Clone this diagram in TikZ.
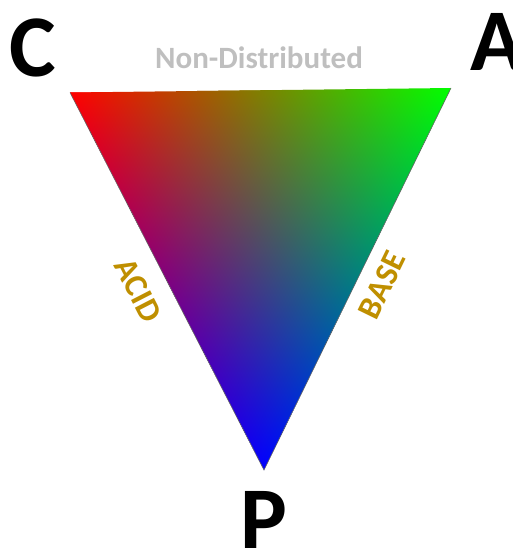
\documentclass[tikz,border=0pt]{standalone}
\usepackage{fontspec}
\setmainfont{Carlito}
\definecolor{ndgray}{RGB}{191,191,191}
\definecolor{goldtxt}{RGB}{191,143,0}
\begin{document}
\begin{tikzpicture}[x=1pt,y=-1pt,
  vtx/.style={font=\fontsize{88}{88}\selectfont\bfseries, inner sep=0pt, anchor=base, text=black},
  sidelbl/.style={font=\fontsize{33}{33}\selectfont\bfseries, inner sep=0pt, anchor=center, text=goldtxt},
  toplbl/.style={font=\fontsize{31}{31}\selectfont\bfseries, inner sep=0pt, anchor=base, text=ndgray},
  edgeline/.style={draw=black!60, line width=0.6pt}]
\useasboundingbox (0,0) rectangle (512,549);
\coordinate (C) at (70,92.5);
\coordinate (A) at (451,88);
\coordinate (P) at (264,470);
\begin{scope}
  \clip (C) -- (A) -- (P) -- cycle;
  \foreach \k in {0,...,191} {
    \pgfmathsetmacro\yt{88+2*\k}
    \pgfmathsetmacro\ym{\yt+1}
    \pgfmathsetmacro\xa{70+(\yt-92.5)/377.5*194-1.5}
    \pgfmathsetmacro\xb{451-(\yt-88)/382*187+1.5}
    % left end
    \pgfmathsetmacro\rL{(-2.6399*(\xa-264)-1.2923*(\ym-470))/1000}
    \pgfmathsetmacro\gL{(2.6088*(\xa-264)-1.3407*(\ym-470))/1000}
    \pgfmathsetmacro\bL{max(0,min(1,1-\rL-\gL))}
    \pgfmathsetmacro\rL{max(0,min(1,\rL))}
    \pgfmathsetmacro\gL{max(0,min(1,\gL))}
    % right end
    \pgfmathsetmacro\rR{(-2.6399*(\xb-264)-1.2923*(\ym-470))/1000}
    \pgfmathsetmacro\gR{(2.6088*(\xb-264)-1.3407*(\ym-470))/1000}
    \pgfmathsetmacro\bR{max(0,min(1,1-\rR-\gR))}
    \pgfmathsetmacro\rR{max(0,min(1,\rR))}
    \pgfmathsetmacro\gR{max(0,min(1,\gR))}
    \definecolor{stripL}{rgb}{\rL,\gL,\bL}
    \definecolor{stripR}{rgb}{\rR,\gR,\bR}
    \shade[left color=stripL, right color=stripR] (\xa,\yt) rectangle (\xb,\yt+2.7);
  }
\end{scope}
\draw[edgeline] (C) -- (P) -- (A);
\node[vtx] (lC) at (33,76) {C};
\node[vtx] (lA) at (497,70) {A};
\node[vtx] (lP) at (263.5,548) {P};
\node[toplbl] (nd) at (259,68) {Non-Distributed};
\node[sidelbl, rotate=-62.8] (acid) at (138,290) {ACID};
\node[sidelbl, rotate=64] (base) at (382,285) {BASE};
\end{tikzpicture}
\end{document}
